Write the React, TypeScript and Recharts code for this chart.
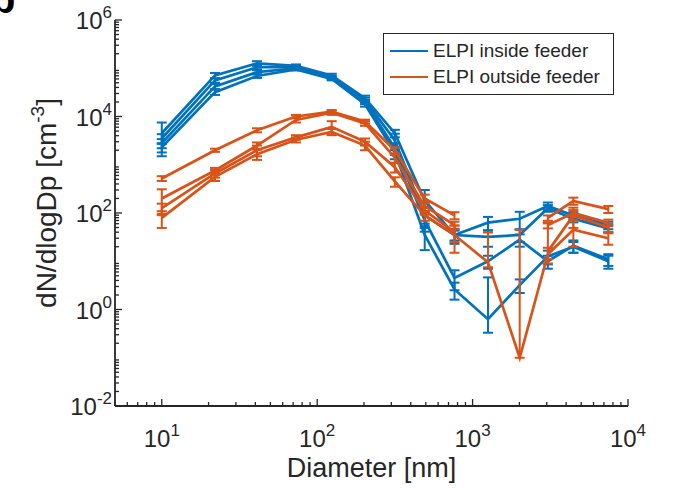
import React from 'react'
import { LineChart, Line, XAxis, YAxis, ErrorBar, Legend } from 'recharts'

// ELPI stage diameters [nm]
const diameters = [10, 22, 41, 73, 124, 203, 316, 492, 765, 1256, 2010, 3050, 4450, 7470]

type Err = number | [number, number] | null

// inside feeder runs
const inside1 = [4500, 71000, 126000, 112000, 71000, 24000, 4500, 180, 35, 63, 76, 140, 89, 56]
const inside1Err: Err[] = [3000, 9000, 14000, 8000, 6000, 3000, 800, 120, 8, 20, 30, 25, 15, 10]
const inside2 = [3500, 56000, 105000, 107000, 66000, 22000, 3200, 89, 35, 32, 35, 126, 76, 48]
const inside2Err: Err[] = [800, 6000, 10000, 6000, 5000, 2500, 1200, 40, 12, 12, 10, 20, 12, 8]
const inside3 = [2800, 42000, 83000, 100000, 63000, 20000, 2200, 71, 4.5, 10, 28, 10, 21, 11]
const inside3Err: Err[] = [600, 5000, 8000, 6000, 4000, 2000, 600, 30, 2, 3, 8, 3, 6, 3]
const inside4 = [2300, 32000, 69000, 95000, 60000, 18000, 1800, 35, 2.6, 0.63, 3.2, 12.6, 20, 10]
const inside4Err: Err[] = [500, 4000, 6000, 5000, 4000, 2000, 500, 18, 1, [0.3, 4], 1, 4, 5, 3]

// outside feeder runs (null = no value on log axis)
const outside1 = [520, 2000, 5200, 10000, 12600, 7900, 2000, 200, 89, null, null, 79, 178, 120]
const outside1Err: Err[] = [60, 150, 500, 800, 1000, 700, 300, 40, 15, null, null, 10, 30, 20]
const outside2 = [200, 760, 2500, 8500, 12000, 7200, 1400, 140, 56, null, null, 56, 100, 63]
const outside2Err: Err[] = [110, 100, 400, 1000, 1200, 800, 300, 30, 10, null, null, 8, 15, 10]
const outside3 = [126, 660, 2000, 3700, 6100, 3000, 890, 112, 40, null, null, 16, 89, 50]
const outside3Err: Err[] = [30, 120, 500, 400, 1900, 500, 200, 20, 15, null, null, [5, 45], 40, 10]
const outside4 = [79, 560, 1660, 3300, 4800, 2500, 450, 89, 35, 9.5, 0.1, 14, 45, 30]
const outside4Err: Err[] = [30, 100, 400, 400, 700, 500, 100, 20, 20, [2, 30], [0, 45], 5, 25, 8]

const xMajor = [10, 100, 1000, 10000]
const xExp = ['1', '2', '3', '4']
const yMajor = [0.01, 1, 100, 10000, 1000000]
const yExp = ['-2', '0', '2', '4', '6']

const BLUE = '#0072BD'
const ORANGE = '#D95319'
const INK = '#262626'
const FONT = '"Liberation Sans", Arial, Helvetica, sans-serif'

const series = [
  { key: 'in1', values: inside1, errs: inside1Err, color: BLUE },
  { key: 'in2', values: inside2, errs: inside2Err, color: BLUE },
  { key: 'in3', values: inside3, errs: inside3Err, color: BLUE },
  { key: 'in4', values: inside4, errs: inside4Err, color: BLUE },
  { key: 'out1', values: outside1, errs: outside1Err, color: ORANGE },
  { key: 'out2', values: outside2, errs: outside2Err, color: ORANGE },
  { key: 'out3', values: outside3, errs: outside3Err, color: ORANGE },
  { key: 'out4', values: outside4, errs: outside4Err, color: ORANGE },
]

const rows = diameters.map((d, i) => {
  const r: Record<string, any> = { d }
  series.forEach(s => {
    r[s.key] = s.values[i]
    r[s.key + 'e'] = s.errs[i]
  })
  return r
})

function minors(from: number, to: number) {
  const out: number[] = []
  for (let e = from; e < to; e++) for (let m = 2; m <= 9; m++) out.push(m * Math.pow(10, e))
  return out
}
const xTicks = [5, 6, 7, 8, 9, ...minors(1, 4), ...xMajor].sort((a, b) => a - b)
const yTicks = [...minors(-2, 6), ...yMajor].sort((a, b) => a - b)

const majorIdx = (v: number, list: number[]) => list.findIndex(m => Math.abs(v / m - 1) < 1e-6)

const BottomTick = ({ x, y, payload }: any) => {
  const i = majorIdx(payload.value, xMajor)
  return (
    <g>
      <line x1={x} x2={x} y1={y} y2={y - (i >= 0 ? 7 : 4)} stroke={INK} strokeWidth={1.3} />
      {i >= 0 && (
        <text x={x} y={y + 41} textAnchor="middle" fontFamily={FONT} fontSize={24} fill={INK}>
          10<tspan dy={-11} fontSize={17}>{xExp[i]}</tspan>
        </text>
      )}
    </g>
  )
}

const TopTick = ({ x, y, payload }: any) => {
  const i = majorIdx(payload.value, xMajor)
  return <line x1={x} x2={x} y1={y} y2={y + (i >= 0 ? 7 : 4)} stroke={INK} strokeWidth={1.3} />
}

const LeftTick = ({ x, y, payload }: any) => {
  const i = majorIdx(payload.value, yMajor)
  return (
    <g>
      <line x1={x} x2={x + (i >= 0 ? 7 : 4)} y1={y} y2={y} stroke={INK} strokeWidth={1.3} />
      {i >= 0 && (
        <text x={x - 3} y={y + 9} textAnchor="end" fontFamily={FONT} fontSize={24} fill={INK}>
          10<tspan dy={-11} fontSize={17}>{yExp[i]}</tspan>
        </text>
      )}
    </g>
  )
}

const RightTick = ({ x, y, payload }: any) => {
  const i = majorIdx(payload.value, yMajor)
  return <line x1={x} x2={x - (i >= 0 ? 7 : 4)} y1={y} y2={y} stroke={INK} strokeWidth={1.3} />
}

const XTitle = ({ viewBox }: any) => (
  <text x={viewBox.x + viewBox.width / 2} y={477} textAnchor="middle" fontFamily={FONT} fontSize={27} fill={INK}>
    Diameter [nm]
  </text>
)

const YTitle = ({ viewBox }: any) => {
  const cx = 56
  const cy = viewBox.y + viewBox.height / 2 - 10
  return (
    <text x={cx} y={cy} transform={`rotate(-90 ${cx} ${cy})`} textAnchor="middle" fontFamily={FONT} fontSize={28} fill={INK}>
      dN/dlogDp [cm<tspan dy={-12} fontSize={19}>-3</tspan><tspan dy={12}>]</tspan>
    </text>
  )
}

const legendItems = [
  { label: 'ELPI inside feeder', color: BLUE },
  { label: 'ELPI outside feeder', color: ORANGE },
]

const LegendBox = () => (
  <div style={{ width: 231, height: 62, boxSizing: 'border-box', border: `1.5px solid ${INK}`, background: '#fff', padding: '4px 6px', fontFamily: FONT, fontSize: 19, color: INK }}>
    {legendItems.map(it => (
      <div key={it.label} style={{ display: 'flex', alignItems: 'center', height: 26, whiteSpace: 'nowrap' }}>
        <div style={{ width: 38, height: 2.5, background: it.color, marginRight: 5, flex: 'none' }} />
        <span>{it.label}</span>
      </div>
    ))}
  </div>
)

export default function App() {
  return (
    <div style={{ position: 'absolute', left: 0, top: 0, width: 675, height: 489, background: '#fff' }}>
      <svg width={40} height={30} style={{ position: 'absolute', left: 0, top: 0 }}>
        <text x={-9} y={13} fontFamily={FONT} fontWeight="bold" fontSize={40} fill="#000">b</text>
      </svg>
      <LineChart width={675} height={489} data={rows} margin={{ top: 20, right: 47, bottom: 0, left: 0 }}>
        <XAxis dataKey="d" type="number" scale="log" domain={[5, 10000]} allowDataOverflow ticks={xTicks} interval={0}
          tick={<BottomTick />} tickLine={false} tickSize={0} tickMargin={0} height={83}
          axisLine={{ stroke: INK, strokeWidth: 1.8 }} label={<XTitle />} />
        <XAxis xAxisId="top" orientation="top" dataKey="d" type="number" scale="log" domain={[5, 10000]} allowDataOverflow
          ticks={xTicks} interval={0} tick={<TopTick />} tickLine={false} tickSize={0} tickMargin={0} height={0}
          axisLine={{ stroke: INK, strokeWidth: 1.8 }} />
        <YAxis type="number" scale="log" domain={[0.01, 1000000]} allowDataOverflow ticks={yTicks} interval={0}
          tick={<LeftTick />} tickLine={false} tickSize={0} tickMargin={0} width={115}
          axisLine={{ stroke: INK, strokeWidth: 1.8 }} label={<YTitle />} />
        <YAxis yAxisId="right" orientation="right" type="number" scale="log" domain={[0.01, 1000000]} allowDataOverflow
          ticks={yTicks} interval={0} tick={<RightTick />} tickLine={false} tickSize={0} tickMargin={0} width={0}
          axisLine={{ stroke: INK, strokeWidth: 1.8 }} />
        <Legend content={<LegendBox />} layout="horizontal" verticalAlign="middle" align="center"
          wrapperStyle={{ position: 'absolute', left: 383, top: 33, width: 231, height: 62 }} />
        {series.map(s => (
          <Line key={s.key} dataKey={s.key} type="linear" stroke={s.color} strokeWidth={2.7} dot={false}
            connectNulls={false} isAnimationActive={false} legendType="none">
            <ErrorBar dataKey={s.key + 'e'} direction="y" stroke={s.color} strokeWidth={2} width={5} />
          </Line>
        ))}
      </LineChart>
    </div>
  )
}
